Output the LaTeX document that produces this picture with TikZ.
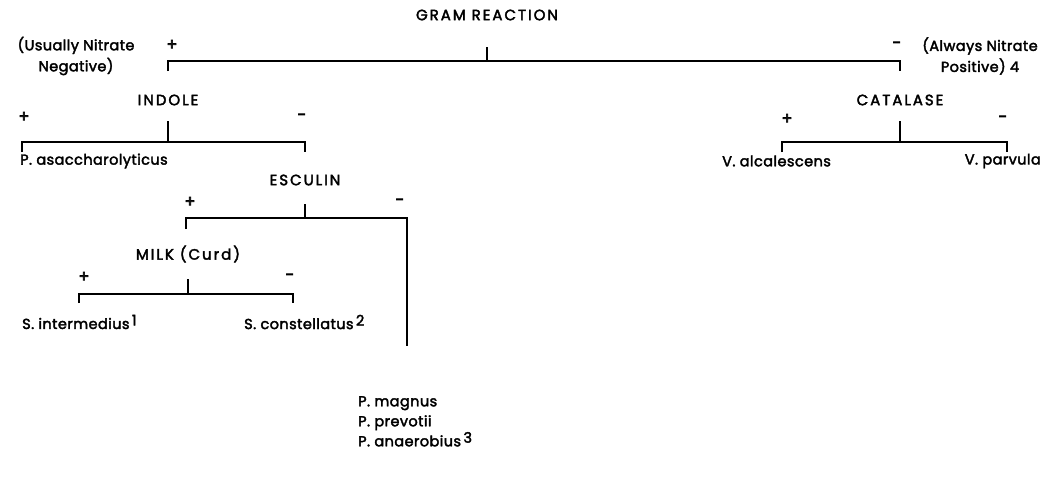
\documentclass[tikz,border=0pt]{standalone}
\usepackage{fontspec}
\setmainfont{Poppins}
\newfontfamily\diagfont{Poppins}[FakeBold=2.5,LetterSpace=3]
\newfontfamily\capsfont{Poppins}[FakeBold=2.5,LetterSpace=13]
\newfontfamily\signfont{Poppins}[FakeBold=4]
\begin{document}
\begin{tikzpicture}[x=1pt,y=-1pt,
  lbl/.style={inner sep=0pt,font=\diagfont\fontsize{14.5}{21}\selectfont},
  caplbl/.style={inner sep=0pt,font=\capsfont\fontsize{15}{21}\selectfont},
  sgn/.style={inner sep=0pt,font=\signfont\fontsize{16}{18}\selectfont},
  br/.style={line width=1.8pt,line cap=butt}]
\useasboundingbox[fill=white] (0,0) rectangle (1052,485);
% GRAM REACTION
\node[caplbl] (gram) at (487,15) {GRAM REACTION};
\node[lbl,align=center] (usu) at (76,56) {(Usually Nitrate\\Negative)};
\node[lbl,align=center] (alw) at (980,56) {(Always Nitrate\\Positive) 4};
\node[sgn] (gp) at (172,45) {+};
\node[sgn] (gm) at (897,45) {-};
\coordinate (gS) at (487,47);
\coordinate (gC) at (487,61);
\coordinate (gL) at (168,61);
\coordinate (gLd) at (168,71);
\coordinate (gR) at (900,61);
\coordinate (gRd) at (900,71);
\draw[br] (gS) -- (gC);
\draw[br] (gLd) -- (gL) -- (gR) -- (gRd);
% INDOLE
\node[caplbl] (indole) at (168,100) {INDOLE};
\node[sgn] (ip) at (24,117) {+};
\node[sgn] (im) at (302,117) {-};
\coordinate (iS) at (168,121);
\coordinate (iC) at (168,142);
\coordinate (iL) at (22,142);
\coordinate (iLd) at (22,152);
\coordinate (iR) at (305,142);
\coordinate (iRd) at (305,152);
\draw[br] (iS) -- (iC);
\draw[br] (iLd) -- (iL) -- (iR) -- (iRd);
\node[lbl,anchor=west] (pasacch) at (20,161) {P. asaccharolyticus};
% CATALASE
\node[caplbl] (catalase) at (900,100) {CATALASE};
\node[sgn] (cp) at (787,119) {+};
\node[sgn] (cm) at (1003,119) {-};
\coordinate (cS) at (900,121);
\coordinate (cC) at (900,142);
\coordinate (cL) at (782,142);
\coordinate (cLd) at (782,152);
\coordinate (cR) at (1007,142);
\coordinate (cRd) at (1007,152);
\draw[br] (cS) -- (cC);
\draw[br] (cLd) -- (cL) -- (cR) -- (cRd);
\node[lbl,anchor=west] (valc) at (722,161) {V. alcalescens};
\node[lbl,anchor=east] (vpar) at (1041,161) {V. parvula};
% ESCULIN
\node[caplbl] (esculin) at (305,180) {ESCULIN};
\node[sgn] (ep) at (190,202) {+};
\node[sgn] (em) at (400,202) {-};
\coordinate (eS) at (305,204);
\coordinate (eC) at (305,218);
\coordinate (eL) at (186,218);
\coordinate (eLd) at (186,229);
\coordinate (eR) at (407,218);
\coordinate (eRd) at (407,346);
\draw[br] (eS) -- (eC);
\draw[br] (eLd) -- (eL) -- (eR) -- (eRd);
% MILK
\node[caplbl] (milk) at (188,254) {MILK (Curd)};
\node[sgn] (mp) at (84,277) {+};
\node[sgn] (mm) at (290,277) {-};
\coordinate (mS) at (188,279);
\coordinate (mC) at (188,294);
\coordinate (mL) at (79,294);
\coordinate (mLd) at (79,303);
\coordinate (mR) at (293,294);
\coordinate (mRd) at (293,303);
\draw[br] (mS) -- (mC);
\draw[br] (mLd) -- (mL) -- (mR) -- (mRd);
\node[lbl,anchor=west] (sint) at (22,322) {S. intermedius\,\raisebox{0.45ex}{1}};
\node[lbl,anchor=west] (scon) at (244,322) {S. constellatus\,\raisebox{0.45ex}{2}};
% P. group
\node[lbl,anchor=north west,align=left,font=\diagfont\fontsize{14.5}{20}\selectfont] (pgrp) at (358,396) {P. magnus\\P. prevotii\\P. anaerobius\,\raisebox{0.45ex}{3}};
\end{tikzpicture}
\end{document}
